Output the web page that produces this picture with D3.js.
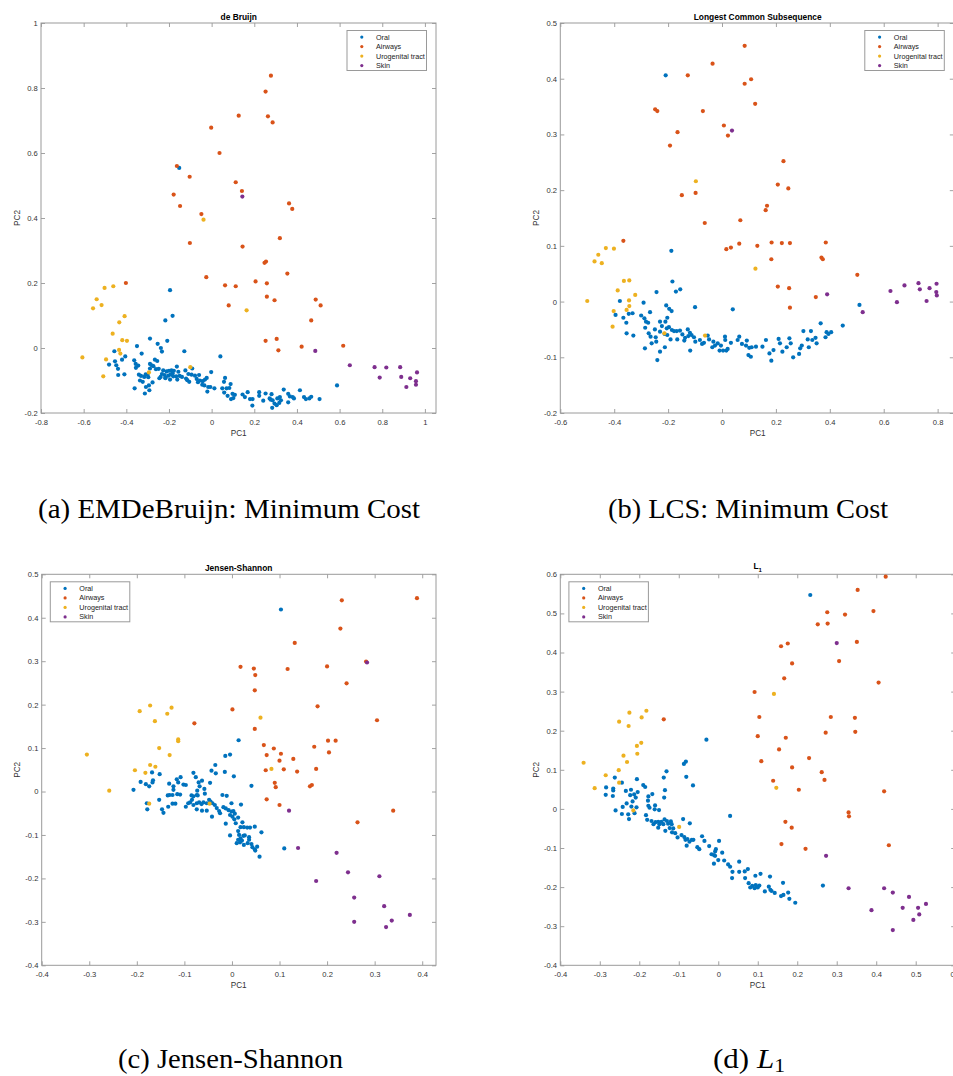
<!DOCTYPE html>
<html><head><meta charset="utf-8">
<script src="https://cdn.jsdelivr.net/npm/d3@7"></script>
<style>body{margin:0;background:#fff}svg{display:block}</style>
</head><body>
<svg id="fig" width="953" height="1076"></svg>
<script>
// ---------------- DATA ----------------
const seriesNames = ["Oral","Airways","Urogenital tract","Skin"];

// (a) de Bruijn
const aOral = [[-0.152,0.554],[-0.195,0.178],[-0.183,0.099],[-0.217,0.085],[0.588,-0.115],
[-0.289,0.029],[-0.208,0.022],[-0.350,0.006],[-0.253,0.013],[-0.238,0.000],[-0.233,-0.011],[-0.456,-0.010],[-0.328,-0.017],[-0.128,-0.010],[0.041,-0.026],
[-0.405,-0.026],[-0.420,-0.036],[-0.453,-0.041],[-0.481,-0.051],[-0.447,-0.053],[-0.439,-0.064],[-0.363,-0.038],[-0.356,-0.049],[-0.344,-0.054],[-0.355,-0.061],
[-0.266,-0.036],[-0.255,-0.040],[-0.289,-0.049],[-0.281,-0.053],[-0.273,-0.056],[-0.289,-0.063],[-0.261,-0.065],[-0.248,-0.064],[-0.227,-0.069],[-0.211,-0.072],
[-0.200,-0.070],[-0.188,-0.069],[-0.177,-0.070],[-0.163,-0.057],[-0.156,-0.073],[-0.123,-0.069],[-0.091,-0.063],[-0.002,-0.074],[-0.438,-0.083],[-0.409,-0.081],
[-0.341,-0.082],[-0.331,-0.086],[-0.309,-0.081],[-0.300,-0.083],[-0.316,-0.089],[-0.297,-0.090],[-0.233,-0.080],[-0.239,-0.089],[-0.245,-0.093],[-0.220,-0.083],
[-0.216,-0.090],[-0.202,-0.085],[-0.192,-0.081],[-0.183,-0.078],[-0.180,-0.087],[-0.166,-0.087],[-0.150,-0.086],[-0.139,-0.089],[-0.161,-0.097],[-0.195,-0.097],
[-0.217,-0.093],[-0.109,-0.080],[-0.094,-0.082],[-0.120,-0.094],[-0.114,-0.099],[-0.105,-0.104],[-0.078,-0.085],[-0.059,-0.083],[-0.070,-0.095],[-0.064,-0.105],
[-0.055,-0.100],[-0.042,-0.102],[-0.031,-0.097],[-0.023,-0.092],[-0.044,-0.113],[-0.034,-0.115],[-0.016,-0.120],[-0.006,-0.120],[0.013,-0.124],[-0.020,-0.134],
[0.063,-0.092],[0.058,-0.104],[0.089,-0.111],[0.083,-0.123],[0.050,-0.124],[0.070,-0.124],[0.059,-0.137],[0.075,-0.147],[0.091,-0.157],[0.102,-0.154],
[0.109,-0.144],[0.098,-0.141],[0.145,-0.143],[0.169,-0.136],[0.156,-0.151],[0.180,-0.157],[0.192,-0.157],[0.191,-0.177],[0.223,-0.136],[0.223,-0.147],
[0.253,-0.140],[0.281,-0.142],[0.272,-0.155],[0.242,-0.162],[0.277,-0.159],[0.286,-0.161],[0.308,-0.155],[0.320,-0.151],[0.325,-0.161],[0.317,-0.169],
[0.305,-0.176],[0.295,-0.171],[0.284,-0.184],[0.338,-0.128],[0.359,-0.141],[0.367,-0.149],[0.380,-0.151],[0.386,-0.155],[0.359,-0.167],[0.414,-0.130],
[0.433,-0.151],[0.442,-0.157],[0.458,-0.155],[0.467,-0.150],[0.506,-0.157],[-0.361,-0.124],[-0.308,-0.120],[-0.292,-0.130],[-0.313,-0.140],[-0.277,-0.106],
[-0.294,-0.115],[-0.336,-0.100],[-0.323,-0.104]];
const aAirways = [[0.278,0.838],[0.253,0.789],[0.127,0.715],[0.264,0.713],[0.286,0.694],[-0.002,0.678],[0.037,0.600],[-0.163,0.560],[-0.103,0.527],[0.113,0.510],
[0.142,0.483],[-0.178,0.472],[-0.148,0.437],[0.363,0.445],[0.378,0.428],[-0.048,0.412],[0.320,0.338],[-0.102,0.323],[0.145,0.312],[0.255,0.266],
[0.248,0.262],[0.355,0.229],[-0.025,0.218],[0.206,0.205],[-0.402,0.200],[0.063,0.193],[0.113,0.190],[0.259,0.199],[0.259,0.158],[0.488,0.149],
[0.295,0.147],[0.080,0.131],[0.511,0.131],[0.467,0.085],[0.253,0.022],[0.305,0.028],[0.313,-0.007],[0.422,0.004],[0.617,0.007]];
const aUrogenital = [[-0.502,0.185],[-0.461,0.190],[-0.539,0.150],[-0.516,0.132],[-0.556,0.122],[-0.038,0.395],[0.164,0.116],[-0.408,0.098],[-0.433,0.079],[-0.464,0.044],
[-0.419,0.024],[-0.397,0.022],[-0.434,-0.006],[-0.428,-0.017],[-0.606,-0.029],[-0.495,-0.035],[-0.508,-0.087],[-0.294,-0.075],[-0.100,-0.059]];
const aSkin = [[0.144,0.466],[0.486,-0.009],[0.648,-0.053],[0.764,-0.059],[0.788,-0.091],[0.819,-0.060],[0.884,-0.059],[0.889,-0.089],[0.913,-0.120],[0.931,-0.093],
[0.958,-0.102],[0.958,-0.113],[0.963,-0.075]];

// (b) Longest Common Subsequence
const bOral = [[-0.209,0.406],[-0.188,0.091],[-0.184,0.036],[-0.155,0.022],[-0.171,0.018],[-0.243,0.017],[-0.379,0.001],[-0.291,-0.002],[-0.100,-0.010],[0.040,-0.014],
[-0.207,-0.007],[-0.196,-0.013],[-0.187,-0.017],[-0.267,-0.019],[-0.395,-0.024],[-0.332,-0.021],[-0.346,-0.022],[-0.300,-0.025],[-0.366,-0.029],[-0.288,-0.030],
[-0.282,-0.036],[-0.274,-0.038],[-0.285,-0.047],[-0.355,-0.038],[-0.230,-0.036],[-0.210,-0.036],[-0.203,-0.029],[-0.223,-0.044],[-0.205,-0.048],[-0.197,-0.046],
[-0.186,-0.051],[-0.249,-0.050],[-0.230,-0.054],[-0.272,-0.057],[-0.265,-0.063],[-0.246,-0.064],[-0.261,-0.075],[-0.244,-0.072],[-0.213,-0.058],[-0.203,-0.060],
[-0.191,-0.068],[-0.166,-0.068],[-0.178,-0.053],[-0.168,-0.053],[-0.156,-0.052],[-0.147,-0.059],[-0.137,-0.065],[-0.127,-0.050],[-0.119,-0.056],[-0.113,-0.060],
[-0.104,-0.064],[-0.099,-0.072],[-0.082,-0.069],[-0.067,-0.074],[-0.053,-0.061],[-0.048,-0.068],[-0.032,-0.072],[-0.026,-0.079],[-0.016,-0.075],[-0.004,-0.079],
[0.004,-0.088],[0.012,-0.069],[0.011,-0.063],[0.021,-0.085],[0.033,-0.074],[0.058,-0.069],[0.064,-0.063],[0.074,-0.076],[0.089,-0.079],[0.092,-0.070],
[0.101,-0.083],[0.098,-0.096],[0.107,-0.099],[0.110,-0.082],[0.150,-0.081],[0.163,-0.069],[0.176,-0.093],[0.183,-0.106],[0.191,-0.087],[0.210,-0.067],
[0.215,-0.075],[0.224,-0.090],[0.240,-0.082],[0.250,-0.066],[0.255,-0.075],[0.264,-0.100],[0.286,-0.094],[0.290,-0.084],[0.296,-0.079],[0.302,-0.053],
[0.322,-0.082],[0.318,-0.068],[0.330,-0.053],[0.335,-0.069],[0.347,-0.065],[0.351,-0.075],[0.366,-0.039],[0.388,-0.055],[0.395,-0.058],[0.405,-0.055],
[0.384,-0.064],[0.448,-0.043],[0.510,-0.006],[-0.286,-0.084],[-0.240,-0.105],[-0.230,-0.090],[-0.212,-0.082],[-0.118,-0.088],[-0.329,-0.061],[-0.354,-0.057],
[-0.074,-0.076],[-0.009,-0.088],[-0.036,-0.082],[0.016,-0.088],[0.126,-0.081],[-0.140,-0.070],[-0.125,-0.062]];
const bAirways = [[0.084,0.459],[-0.035,0.427],[-0.127,0.406],[0.108,0.399],[0.084,0.391],[0.123,0.355],[-0.248,0.345],[-0.240,0.342],[-0.071,0.342],[0.007,0.316],
[-0.165,0.304],[0.022,0.298],[-0.193,0.280],[0.228,0.252],[0.207,0.210],[0.246,0.203],[-0.098,0.195],[-0.149,0.191],[0.167,0.172],[0.162,0.164],
[0.068,0.146],[-0.064,0.141],[-0.366,0.109],[0.184,0.106],[0.222,0.105],[0.252,0.105],[0.385,0.106],[0.064,0.104],[0.131,0.100],[0.033,0.097],
[0.016,0.094],[0.183,0.076],[0.369,0.079],[0.374,0.076],[0.502,0.048],[0.207,0.027],[0.249,0.024],[0.348,0.008],[0.252,-0.011]];
const bUrogenital = [[-0.097,0.216],[0.124,0.059],[-0.431,0.096],[-0.401,0.095],[-0.459,0.084],[-0.473,0.072],[-0.446,0.069],[-0.364,0.037],[-0.344,0.038],[-0.387,0.020],
[-0.322,0.012],[-0.500,0.001],[-0.345,0.002],[-0.344,-0.008],[-0.354,-0.015],[-0.402,-0.017],[-0.406,-0.045],[-0.214,-0.057],[-0.063,-0.061]];
const bSkin = [[0.037,0.307],[0.390,0.013],[0.522,-0.019],[0.625,0.019],[0.649,-0.001],[0.677,0.029],[0.729,0.033],[0.734,0.022],[0.770,0.024],[0.759,0.001],
[0.796,0.032],[0.795,0.017],[0.797,0.011]];

// (c) Jensen-Shannon
const cOral = [[0.103,0.419],[0.014,0.118],[0.110,-0.131],
[-0.014,0.082],[-0.004,0.085],[-0.035,0.061],[-0.043,0.048],[-0.034,0.042],[-0.015,0.045],[0.004,0.035],[-0.081,0.043],[-0.076,0.033],[-0.063,0.025],
[-0.070,0.021],[-0.046,0.020],[-0.058,0.006],[-0.073,0.002],[-0.074,-0.008],[-0.085,-0.009],[-0.081,-0.011],[-0.072,-0.009],[-0.057,-0.005],[-0.068,0.012],
[-0.168,0.044],[-0.152,0.040],[-0.167,0.021],[-0.166,0.026],[-0.181,0.017],[-0.174,0.012],[-0.192,0.022],[-0.207,0.004],[-0.179,-0.027],[-0.178,-0.041],
[-0.153,-0.019],[-0.147,-0.041],[-0.144,-0.049],[-0.134,-0.035],[-0.125,-0.028],[-0.119,-0.028],[-0.135,-0.009],[-0.131,-0.008],[-0.125,-0.008],[-0.115,-0.006],
[-0.109,-0.007],[-0.123,0.004],[-0.123,0.012],[-0.132,0.018],[-0.116,0.028],[-0.108,0.033],[-0.113,0.021],[-0.102,0.016],[-0.097,0.015],[-0.097,-0.035],
[-0.092,-0.027],[-0.088,-0.025],[-0.084,-0.019],[-0.081,-0.031],[-0.074,-0.027],[-0.069,-0.025],[-0.064,-0.029],[-0.060,-0.025],[-0.053,-0.027],[-0.074,-0.041],
[-0.063,-0.044],[-0.053,-0.044],[-0.048,-0.019],[-0.045,-0.023],[-0.041,-0.027],[-0.036,-0.031],[-0.032,-0.038],[-0.027,-0.045],[-0.025,-0.050],[-0.042,-0.058],
[-0.020,-0.008],[-0.011,-0.010],[-0.001,-0.027],[0.019,-0.030],[-0.018,-0.036],[-0.013,-0.039],[-0.007,-0.043],[-0.001,-0.046],[0.003,-0.045],[0.006,-0.051],
[-0.004,-0.054],[0.001,-0.058],[0.005,-0.064],[0.013,-0.060],[0.008,-0.073],[-0.013,-0.074],[0.018,-0.082],[0.025,-0.082],[0.022,-0.071],[0.032,-0.083],
[0.038,-0.083],[0.048,-0.081],[0.013,-0.091],[-0.004,-0.101],[0.015,-0.100],[0.018,-0.108],[0.024,-0.102],[0.027,-0.101],[0.036,-0.105],[0.036,-0.111],
[0.013,-0.111],[0.010,-0.119],[0.017,-0.117],[0.021,-0.113],[0.025,-0.123],[0.033,-0.119],[0.041,-0.121],[0.043,-0.128],[0.048,-0.133],[0.053,-0.127],
[0.049,-0.136],[0.058,-0.150],[0.062,-0.094],[0.041,0.013]];
const cAirways = [[0.389,0.445],[0.231,0.440],[0.228,0.375],[0.132,0.342],[0.282,0.299],[0.018,0.287],[0.046,0.283],[0.117,0.282],[0.200,0.288],[0.049,0.268],
[0.241,0.249],[0.048,0.233],[0.180,0.196],[0.001,0.189],[-0.079,0.157],[0.305,0.164],[0.048,0.144],[0.067,0.107],[0.173,0.103],[0.202,0.117],
[0.218,0.117],[0.088,0.099],[0.204,0.090],[0.103,0.087],[0.073,0.084],[0.129,0.075],[0.100,0.071],[0.071,0.049],[0.109,0.051],[0.137,0.046],
[0.177,0.052],[0.090,0.020],[0.092,0.010],[0.168,0.015],[0.164,0.012],[0.073,-0.018],[0.100,-0.031],[0.339,-0.044],[0.264,-0.071]];
const cUrogenital = [[-0.305,0.085],[-0.258,0.002],[-0.172,0.198],[-0.194,0.185],[-0.127,0.193],[-0.136,0.179],[-0.162,0.162],[-0.113,0.120],[-0.113,0.116],[-0.153,0.100],
[-0.131,0.084],[0.060,0.170],[-0.172,0.061],[-0.161,0.057],[-0.204,0.049],[-0.182,0.043],[0.083,0.052],[-0.174,-0.028],[-0.047,-0.028]];
const cSkin = [[0.284,0.297],[0.120,-0.044],[0.139,-0.130],[0.220,-0.141],[0.244,-0.186],[0.310,-0.195],[0.177,-0.206],[0.257,-0.244],[0.320,-0.264],[0.374,-0.284],
[0.336,-0.297],[0.257,-0.300],[0.324,-0.312]];

// (d) L1
const dOral = [[0.233,0.547],[-0.030,0.177],
[-0.082,0.121],[-0.087,0.115],[-0.131,0.096],[-0.081,0.082],[-0.064,0.060],[-0.138,0.080],[-0.135,0.048],[-0.137,0.029],[-0.262,0.080],[-0.244,0.067],
[-0.284,0.055],[-0.266,0.052],[-0.266,0.047],[-0.285,0.036],[-0.267,0.033],[-0.206,0.076],[-0.190,0.061],[-0.185,0.056],[-0.234,0.046],[-0.221,0.049],
[-0.204,0.043],[-0.213,0.037],[-0.209,0.029],[-0.223,0.035],[-0.217,0.019],[-0.232,0.014],[-0.242,0.005],[-0.220,0.006],[-0.207,0.004],[-0.212,-0.011],
[-0.228,-0.014],[-0.244,-0.013],[-0.226,-0.026],[-0.260,-0.004],[-0.177,0.032],[-0.167,0.038],[-0.178,0.021],[-0.177,0.008],[-0.174,0.003],[-0.160,0.009],
[-0.161,-0.001],[-0.150,-0.003],[-0.183,-0.016],[-0.180,-0.028],[-0.169,-0.031],[-0.164,-0.039],[-0.159,-0.034],[-0.152,-0.033],[-0.149,-0.039],[-0.144,-0.033],
[-0.139,-0.039],[-0.152,-0.048],[-0.134,-0.056],[-0.136,-0.027],[-0.130,-0.031],[-0.120,-0.032],[-0.127,-0.038],[-0.118,-0.039],[-0.123,-0.049],[-0.117,-0.060],
[-0.114,-0.050],[-0.109,-0.062],[-0.103,-0.073],[-0.089,-0.026],[-0.072,-0.037],[-0.093,-0.067],[-0.086,-0.072],[-0.083,-0.079],[-0.078,-0.077],[-0.073,-0.084],
[-0.067,-0.079],[-0.063,-0.079],[-0.080,-0.094],[-0.053,-0.098],[-0.048,-0.103],[-0.041,-0.070],[-0.035,-0.082],[-0.023,-0.095],[-0.017,-0.116],[-0.011,-0.118],
[-0.008,-0.109],[-0.006,-0.103],[-0.008,-0.120],[0.002,-0.082],[0.010,-0.112],[-0.011,-0.140],[0.000,-0.131],[0.015,-0.132],[0.025,-0.142],[0.030,-0.148],
[0.036,-0.161],[0.035,-0.177],[0.053,-0.135],[0.053,-0.161],[0.067,-0.160],[0.075,-0.154],[0.094,-0.171],[0.107,-0.166],[0.131,-0.173],[0.068,-0.177],
[0.077,-0.190],[0.081,-0.201],[0.086,-0.197],[0.092,-0.203],[0.095,-0.195],[0.100,-0.201],[0.104,-0.196],[0.118,-0.211],[0.128,-0.199],[0.132,-0.207],
[0.135,-0.210],[0.143,-0.215],[0.159,-0.223],[0.165,-0.220],[0.177,-0.214],[0.164,-0.189],[0.180,-0.230],[0.195,-0.240],[0.030,-0.018],[0.265,-0.196]];
const dAirways = [[0.424,0.594],[0.353,0.560],[0.393,0.506],[0.276,0.503],[0.321,0.497],[0.252,0.472],[0.277,0.474],[0.351,0.427],[0.176,0.423],[0.159,0.416],
[0.306,0.378],[0.187,0.372],[0.167,0.334],[0.406,0.323],[0.092,0.299],[0.104,0.235],[0.285,0.235],[0.346,0.233],[-0.138,0.229],[0.272,0.195],
[0.347,0.197],[0.100,0.186],[0.171,0.182],[0.154,0.152],[0.230,0.130],[0.109,0.122],[0.187,0.106],[0.262,0.094],[0.139,0.072],[0.269,0.074],
[0.204,0.049],[0.420,0.045],[0.330,-0.009],[0.331,-0.019],[0.170,-0.033],[0.186,-0.048],[0.160,-0.090],[0.432,-0.093],[0.221,-0.102]];
const dUrogenital = [[0.141,0.294],[-0.182,0.251],[-0.225,0.246],[-0.194,0.234],[-0.251,0.223],[-0.227,0.212],[-0.195,0.169],[-0.206,0.161],[-0.205,0.141],[-0.240,0.136],
[-0.231,0.120],[-0.341,0.118],[-0.252,0.099],[-0.285,0.086],[-0.251,0.067],[-0.313,0.053],[0.147,0.054],[-0.215,-0.004],[-0.099,-0.046]];
const dSkin = [[0.300,0.424],[0.273,-0.120],[0.330,-0.203],[0.420,-0.203],[0.442,-0.214],[0.483,-0.225],[0.526,-0.243],[0.467,-0.253],[0.506,-0.253],[0.388,-0.259],
[0.509,-0.270],[0.494,-0.284],[0.442,-0.310]];

// tick values
const aXTicks = [-0.8,-0.6,-0.4,-0.2,0,0.2,0.4,0.6,0.8,1];
const aYTicks = [-0.2,0,0.2,0.4,0.6,0.8,1];
const bXTicks = [-0.6,-0.4,-0.2,0,0.2,0.4,0.6,0.8];
const bYTicks = [-0.2,-0.1,0,0.1,0.2,0.3,0.4,0.5];
const cXTicks = [-0.4,-0.3,-0.2,-0.1,0,0.1,0.2,0.3,0.4];
const cYTicks = [-0.4,-0.3,-0.2,-0.1,0,0.1,0.2,0.3,0.4,0.5];
const dXTicks = [-0.4,-0.3,-0.2,-0.1,0,0.1,0.2,0.3,0.4,0.5,0.6];
const dYTicks = [-0.4,-0.3,-0.2,-0.1,0,0.1,0.2,0.3,0.4,0.5,0.6];

// ---------------- LAYOUT ----------------
const colors = ["#0072BD","#D95319","#EDB120","#7E2F8E"];
const panels = [
  {title:"de Bruijn", series:[aOral,aAirways,aUrogenital,aSkin], xd:[-0.8,1.052], yd:[-0.2,1], xt:aXTicks, yt:aYTicks,
   L:41, R:436, T:23, B:413, leg:"ne", cap:"(a) EMDeBruijn: Minimum Cost", capX:229.5, capY:518, capW:383},
  {title:"Longest Common Subsequence", series:[bOral,bAirways,bUrogenital,bSkin], xd:[-0.6,0.86], yd:[-0.2,0.5], xt:bXTicks, yt:bYTicks,
   L:560.3, R:953.8, T:23, B:413, leg:"ne", cap:"(b) LCS: Minimum Cost", capX:748.5, capY:518, capW:281},
  {title:"Jensen-Shannon", series:[cOral,cAirways,cUrogenital,cSkin], xd:[-0.4,0.429], yd:[-0.4,0.5], xt:cXTicks, yt:cYTicks,
   L:41.7, R:436, T:574.3, B:965.3, leg:"nw", cap:"(c) Jensen-Shannon", capX:230.5, capY:1068, capW:225},
  {title:"L1", series:[dOral,dAirways,dUrogenital,dSkin], xd:[-0.4,0.6], yd:[-0.4,0.6], xt:dXTicks, yt:dYTicks,
   L:560.3, R:955.2, T:574.3, B:965.3, leg:"nw", cap:"(d) L1", capX:749, capY:1068, capW:72}
];

const svg = d3.select("#fig");
svg.append("rect").attr("width",953).attr("height",1076).attr("fill","#fff");
const fmt = v => String(+v.toFixed(2));
const sans = "'Liberation Sans', Arial, Helvetica, sans-serif";
const boxColor = "#9a9a9a", tickColor = "#8a8a8a", labelColor = "#333";

panels.forEach((p, pi) => {
  const x = d3.scaleLinear().domain(p.xd).range([p.L, p.R]);
  const y = d3.scaleLinear().domain(p.yd).range([p.B, p.T]);
  const g = svg.append("g");

  // axes
  const styleAxis = (sel) => {
    sel.select(".domain").remove();
    sel.attr("font-family", sans).attr("font-size", 7.6).attr("color", tickColor);
    sel.selectAll("text").attr("fill", labelColor);
    sel.selectAll("line").attr("stroke", tickColor).attr("stroke-width", 0.8);
  };
  g.append("g").attr("transform",`translate(0,${p.B})`)
    .call(d3.axisBottom(x).tickValues(p.xt).tickFormat(fmt).tickSizeInner(-4).tickSizeOuter(0).tickPadding(6.4)).call(styleAxis);
  g.append("g").attr("transform",`translate(0,${p.T})`)
    .call(d3.axisTop(x).tickValues(p.xt).tickFormat("").tickSizeInner(-4).tickSizeOuter(0)).call(styleAxis);
  g.append("g").attr("transform",`translate(${p.L},0)`)
    .call(d3.axisLeft(y).tickValues(p.yt).tickFormat(fmt).tickSizeInner(-4).tickSizeOuter(0).tickPadding(3.3)).call(styleAxis);
  g.append("g").attr("transform",`translate(${p.R},0)`)
    .call(d3.axisRight(y).tickValues(p.yt).tickFormat("").tickSizeInner(-4).tickSizeOuter(0)).call(styleAxis);

  g.append("rect").attr("x",p.L).attr("y",p.T).attr("width",p.R-p.L).attr("height",p.B-p.T)
    .attr("fill","none").attr("stroke",boxColor).attr("stroke-width",1);

  // points
  p.series.forEach((s, si) => {
    g.append("g").selectAll("circle").data(s).join("circle")
      .attr("cx", d => x(d[0])).attr("cy", d => y(d[1])).attr("r", 2.1)
      .attr("fill", colors[si]);
  });

  // title
  const tcx = pi % 2 === 0 ? 238.7 : 757.7;
  if (p.title === "L1") {
    const t = g.append("text").attr("x", tcx).attr("y", p.T - 5.5).attr("text-anchor","middle")
      .attr("font-family", sans).attr("font-size", 8.4).attr("font-weight","bold").attr("fill","#000");
    t.append("tspan").text("L");
    t.append("tspan").attr("font-size",6).attr("dy",3).text("1");
  } else {
    g.append("text").attr("x", tcx).attr("y", p.T - 3.3).attr("text-anchor","middle")
      .attr("font-family", sans).attr("font-size", 8.4).attr("font-weight","bold").attr("fill","#000").text(p.title);
  }
  // axis labels
  g.append("text").attr("x", tcx).attr("y", p.B + 23).attr("text-anchor","middle")
    .attr("font-family", sans).attr("font-size", 8.2).attr("fill", labelColor).text("PC1");
  const ylx = p.L - 21.5, yly = (p.T + p.B) / 2;
  g.append("text").attr("transform",`translate(${ylx},${yly}) rotate(-90)`).attr("text-anchor","middle")
    .attr("font-family", sans).attr("font-size", 8.2).attr("fill", labelColor).text("PC2");

  // legend
  const lw = 79.5, lh = 40;
  const lx = p.leg === "ne" ? p.R - 9.5 - lw : p.L + 8.6;
  const ly = p.T + 7.5;
  const lg = g.append("g");
  lg.append("rect").attr("x",lx).attr("y",ly).attr("width",lw).attr("height",lh)
    .attr("fill","#fff").attr("stroke",boxColor).attr("stroke-width",1);
  seriesNames.forEach((n, i) => {
    const ry = ly + 6.6 + i * 9.5;
    lg.append("circle").attr("cx", lx + 14.8).attr("cy", ry).attr("r", 1.6).attr("fill", colors[i]);
    lg.append("text").attr("x", lx + 29).attr("y", ry).attr("dy","0.35em")
      .attr("font-family", sans).attr("font-size", 7.2).attr("fill", "#222").text(n);
  });

  // caption
  const cap = svg.append("text").attr("font-family","'Liberation Serif','Times New Roman',serif")
    .attr("font-size", 26.5).attr("fill","#000").attr("x",0).attr("y",0);
  if (p.title === "L1") {
    cap.append("tspan").text("(d) ");
    cap.append("tspan").attr("font-style","italic").text("L");
    cap.append("tspan").attr("font-size",18.5).attr("dy",3.5).text("1");
  } else {
    cap.text(p.cap);
  }
  const bb = cap.node().getBBox();
  const sx = p.capW / bb.width;
  cap.attr("transform", `translate(${p.capX - p.capW/2 - bb.x*sx},${p.capY}) scale(${sx},1)`);
});
</script>
</body></html>
